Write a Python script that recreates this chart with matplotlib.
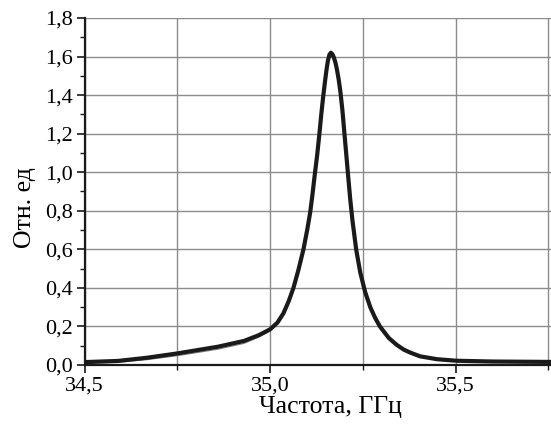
import matplotlib
matplotlib.use("Agg")
import matplotlib.pyplot as plt
from matplotlib.ticker import FuncFormatter, MultipleLocator

# resonance curve: frequency, GHz -> level, relative units
freq = [34.50, 34.59, 34.67, 34.75, 34.86, 34.93, 34.97, 35.00, 35.02,
        35.036, 35.05, 35.063, 35.076, 35.090, 35.100, 35.108, 35.114,
        35.120, 35.127, 35.133, 35.138, 35.143, 35.148, 35.152, 35.156,
        35.160, 35.164, 35.168, 35.172, 35.176, 35.180, 35.185, 35.190,
        35.195, 35.200, 35.205, 35.210, 35.216, 35.222, 35.232, 35.243,
        35.256, 35.270, 35.283, 35.296, 35.320, 35.341, 35.360, 35.377,
        35.404, 35.45, 35.503, 35.60, 35.757]
level = [0.015, 0.021, 0.038, 0.060, 0.095, 0.125, 0.155, 0.185, 0.220,
         0.268, 0.330, 0.400, 0.490, 0.600, 0.700, 0.790, 0.880,
         0.980, 1.090, 1.200, 1.300, 1.390, 1.470, 1.530, 1.580,
         1.610, 1.620, 1.612, 1.595, 1.570, 1.535, 1.480, 1.410,
         1.320, 1.210, 1.100, 0.990, 0.860, 0.750, 0.600, 0.480,
         0.380, 0.300, 0.245, 0.200, 0.140, 0.105, 0.080, 0.065,
         0.045, 0.030, 0.022, 0.018, 0.016]

# second, thin trace slightly lower on the low-frequency shoulder
freq2 = [34.50, 34.59, 34.67, 34.75, 34.86, 34.93, 34.97, 35.00, 35.02]
level2 = [0.010, 0.014, 0.028, 0.048, 0.082, 0.112, 0.145, 0.176, 0.212]

fig = plt.figure(figsize=(5.51, 4.33), dpi=100)
ax = fig.add_axes([84.5 / 551, 1 - 365 / 433, 1 - 84.5 / 551, (365 - 18) / 433])

ax.plot(freq2, level2, color="#808080", lw=0.8, zorder=3)
ax.plot(freq, level, color="#1a1a1a", lw=3.0, solid_joinstyle="round",
        solid_capstyle="round", zorder=4)

ax.set_xlim(34.5, 35.757)
ax.set_ylim(0, 1.8)

ax.xaxis.set_major_locator(MultipleLocator(0.5))
ax.xaxis.set_minor_locator(MultipleLocator(0.25))
ax.yaxis.set_major_locator(MultipleLocator(0.2))
ax.yaxis.set_minor_locator(MultipleLocator(0.1))

comma1 = FuncFormatter(lambda v, pos: f"{v:.1f}".replace(".", ","))
ax.xaxis.set_major_formatter(comma1)
ax.yaxis.set_major_formatter(comma1)

ax.grid(which="major", color="#8c8c8c", lw=1.0)
ax.grid(which="minor", axis="x", color="#8c8c8c", lw=1.0)

for side in ("top", "right"):
    ax.spines[side].set_visible(False)
for side in ("left", "bottom"):
    ax.spines[side].set_linewidth(1.6)
    ax.spines[side].set_color("#1a1a1a")

serif = ["Liberation Serif", "DejaVu Serif"]
ax.tick_params(which="major", direction="out", length=5.5, width=1.2,
               labelsize=16, pad=3, color="#1a1a1a")
ax.tick_params(which="minor", direction="out", length=3.5, width=1.0,
               color="#1a1a1a")
for lbl in ax.get_xticklabels() + ax.get_yticklabels():
    lbl.set_family(serif)

ax.set_xlabel("Частота, ГГц", family=serif, fontsize=18.5)
ax.set_ylabel("Отн. ед", family=serif, fontsize=18.5)
ax.xaxis.set_label_coords(0.527, -0.09)
ax.yaxis.set_label_coords(-0.105, 0.455)

fig.savefig("out.png", dpi=100)
